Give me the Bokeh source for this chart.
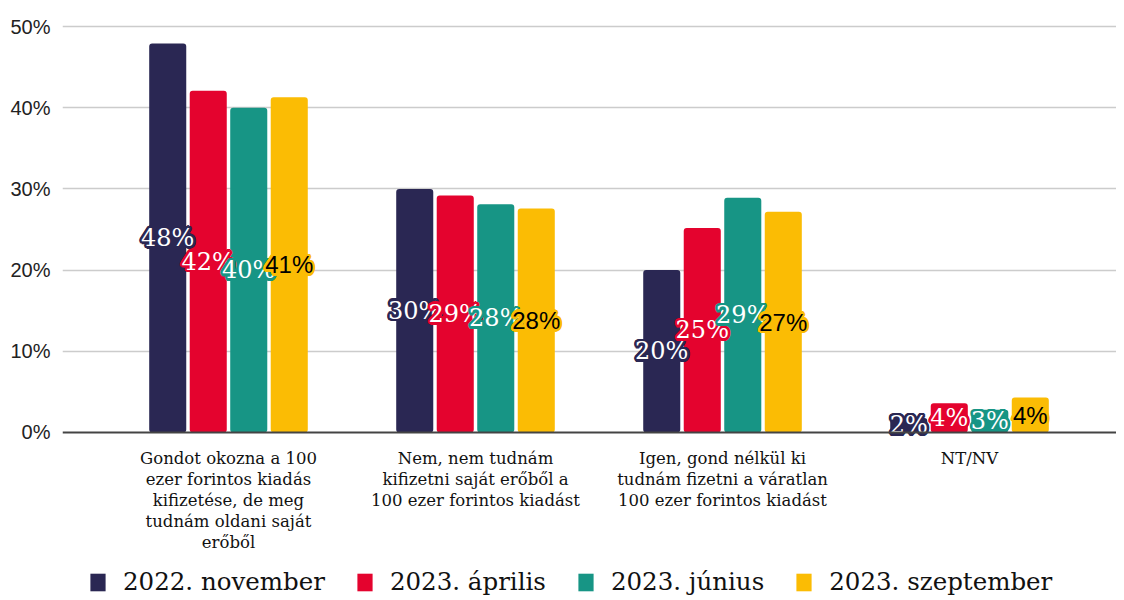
import math
from bokeh.plotting import figure
from bokeh.models import Range1d, FixedTicker, NumeralTickFormatter, Legend, LegendItem, ColumnDataSource, Span
from bokeh.core.properties import value
from bokeh.embed import file_html
from bokeh.resources import INLINE

categories = [
    "Gondot okozna a 100\nezer forintos kiadás\nkifizetése, de meg\ntudnám oldani saját\nerőből",
    "Nem, nem tudnám\nkifizetni saját erőből a\n100 ezer forintos kiadást",
    "Igen, gond nélkül ki\ntudnám fizetni a váratlan\n100 ezer forintos kiadást",
    "NT/NV",
]
series = ["2022. november", "2023. április", "2023. június", "2023. szeptember"]
nov22 = [0.479, 0.300, 0.200, 0.018]
apr23 = [0.421, 0.292, 0.252, 0.036]
jun23 = [0.400, 0.281, 0.289, 0.028]
sep23 = [0.413, 0.276, 0.272, 0.043]
y_ticks = [0.0, 0.1, 0.2, 0.3, 0.4, 0.5]

all_values = [nov22, apr23, jun23, sep23]
colors = ["#2a2753", "#e4032e", "#179585", "#fbbc04"]
text_colors = ["white", "white", "white", "black"]
label_fonts = ["DejaVu Serif", "DejaVu Serif", "DejaVu Serif", "Liberation Sans"]

# frame: 0..50% occupies the upper part; the lower part holds category names and legend
p = figure(frame_width=1054, frame_height=578, output_backend="svg", toolbar_location=None,
           x_range=Range1d(-0.172, 4.095), y_range=Range1d(-0.202, 0.5099),
           min_border_left=62, min_border_right=0, min_border_top=18, min_border_bottom=0)
p.outline_line_color = None
p.background_fill_color = "white"
p.xaxis.visible = False

p.xgrid.grid_line_color = None
p.ygrid.grid_line_color = "#cccccc"
p.ygrid.grid_line_width = 1.5
p.ygrid.ticker = FixedTicker(ticks=y_ticks[1:])

p.yaxis.ticker = FixedTicker(ticks=y_ticks)
p.yaxis.formatter = NumeralTickFormatter(format="0%")
p.yaxis.axis_line_color = None
p.yaxis.major_tick_line_color = None
p.yaxis.major_tick_out = 0
p.yaxis.major_tick_in = 0
p.yaxis.minor_tick_line_color = None
p.yaxis.major_label_text_font = "Liberation Sans"
p.yaxis.major_label_text_font_size = "20px"
p.yaxis.major_label_text_color = "#222222"
p.yaxis.major_label_standoff = 12

centers = [i + 0.5 for i in range(len(categories))]

stride = 0.164
bw = 0.15
items = []
for j, (name, vals) in enumerate(zip(series, all_values)):
    xs = [c + (j - 1.5) * stride for c in centers]
    src = ColumnDataSource(dict(x=xs, top=vals))
    r = p.vbar(x="x", top="top", width=bw, source=src, fill_color=colors[j],
               line_color=None, border_radius=3)
    items.append(LegendItem(label=name, renderers=[r]))

# baseline (x axis line)
p.add_layout(Span(location=0, dimension="width", line_color="#444444", line_width=2))

# category names under the baseline
cat_src = ColumnDataSource(dict(x=centers, y=[0.0] * len(centers), t=categories))
p.text(x="x", y="y", text="t", source=cat_src, y_offset=17, text_align="center",
       text_baseline="top", text_font=value("DejaVu Serif"), text_font_size="16.5px",
       text_line_height=1.1, text_color="#111111")

# labels with outline, drawn series by series
for j, (name, vals) in enumerate(zip(series, all_values)):
    xs = [c + (j - 1.5) * stride for c in centers]
    src = ColumnDataSource(dict(x=xs, mid=[v / 2 for v in vals],
                                lab=[f"{round(v * 100)}%" for v in vals]))
    rad = 2.6
    for k in range(16):
        a = 2 * math.pi * k / 16
        p.text(x="x", y="mid", text="lab", source=src, x_offset=rad * math.cos(a),
               y_offset=rad * math.sin(a), text_align="center", text_baseline="middle",
               text_font=value(label_fonts[j]), text_font_size="24px",
               text_color=colors[j])
    p.text(x="x", y="mid", text="lab", source=src, text_align="center",
           text_baseline="middle", text_font=value(label_fonts[j]),
           text_font_size="24px", text_color=text_colors[j])

legend = Legend(items=items, orientation="horizontal", location=(26, 0))
legend.glyph_width = 19
legend.glyph_height = 22
legend.label_text_font = "DejaVu Serif"
legend.label_text_font_size = "24.5px"
legend.label_text_color = "#111111"
legend.label_standoff = 16
legend.spacing = 30
legend.border_line_color = None
legend.background_fill_alpha = 0
legend.padding = 2
legend.margin = 0
p.add_layout(legend, "center")

open("out.html", "w").write(file_html(p, INLINE))
